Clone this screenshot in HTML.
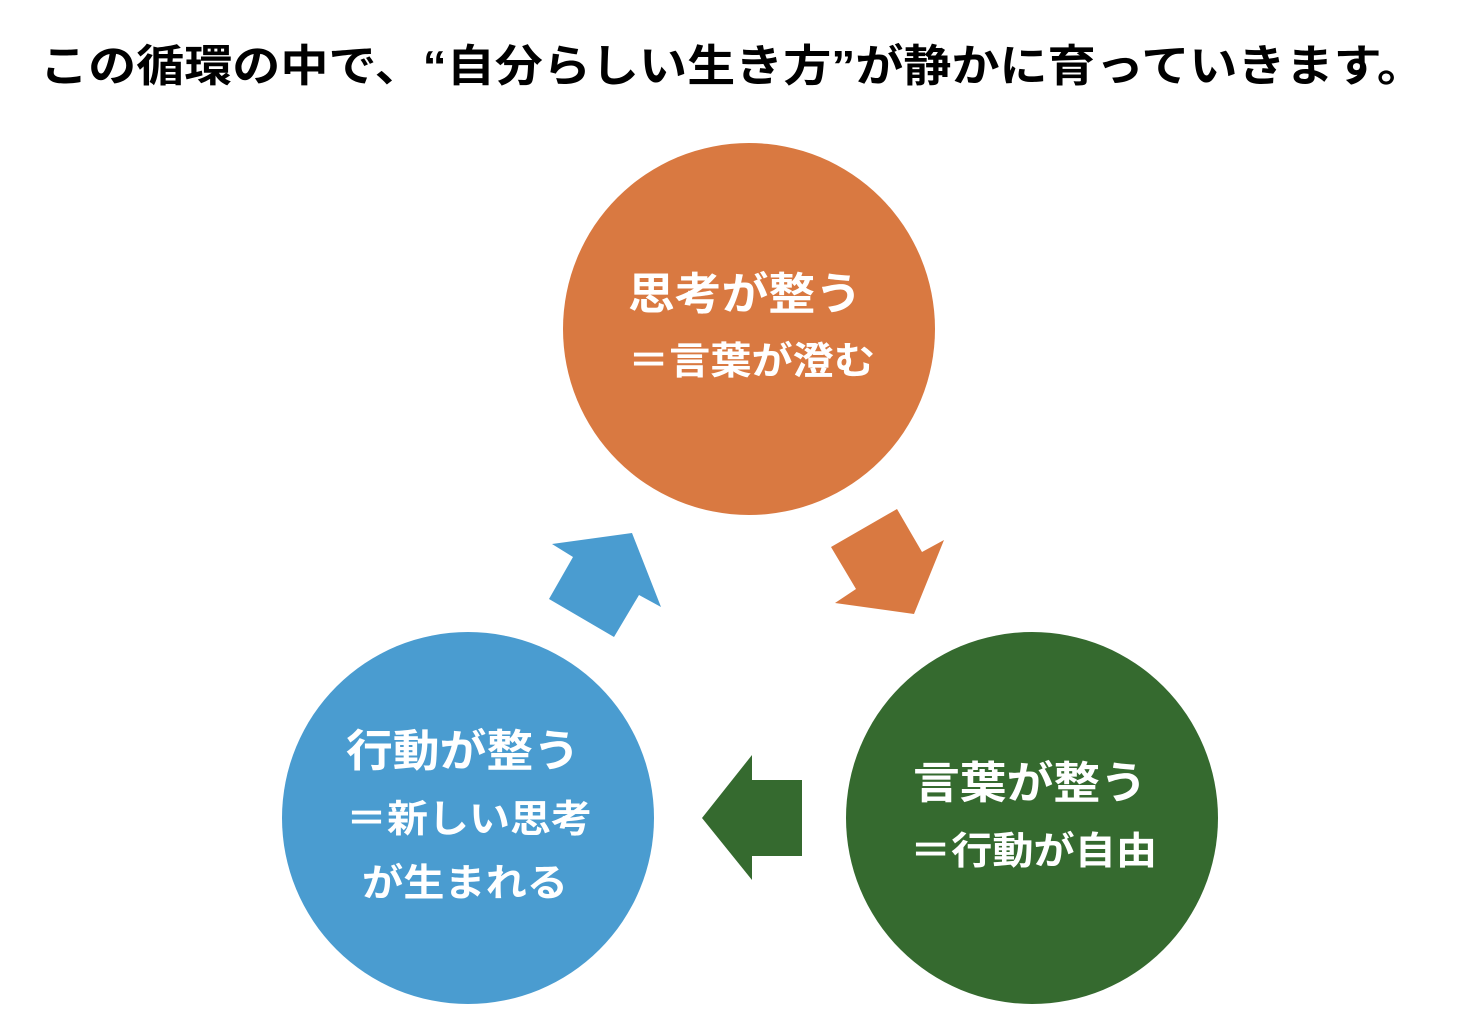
<!DOCTYPE html>
<html><head><meta charset="utf-8"><style>
html,body{margin:0;padding:0;background:#fff;}
svg{display:block}
text{font-family:"Liberation Sans","Noto Sans CJK JP",sans-serif;font-weight:bold;}
</style></head><body>
<svg width="1464" height="1026" viewBox="0 0 1464 1026" xmlns="http://www.w3.org/2000/svg">
<text x="40" y="81" font-size="44" fill="#000" textLength="1385" lengthAdjust="spacingAndGlyphs">この循環の中で、“自分らしい生き方”が静かに育っていきます。</text>
<circle cx="749" cy="329" r="186" fill="#D97941"/>
<circle cx="468" cy="818" r="186" fill="#4A9CD0"/>
<circle cx="1032" cy="818" r="186" fill="#356A2F"/>
<polygon points="552,544 632,533 661,607 639,595 614,637 549,599 573,557" fill="#4A9CD0"/>
<polygon points="897,509 922,552 944,540 914,614 835,603 856,589 831,547" fill="#D97941"/>
<polygon points="702,818 752,755 752,780 802,780 802,856 752,856 752,880" fill="#356A2F"/>
<g fill="#fff">
<text x="628" y="309" font-size="44" textLength="234" lengthAdjust="spacingAndGlyphs">思考が整う</text>
<text x="628" y="374" font-size="38" textLength="247" lengthAdjust="spacingAndGlyphs">＝言葉が澄む</text>
<text x="346" y="766" font-size="44" textLength="234" lengthAdjust="spacingAndGlyphs">行動が整う</text>
<text x="346" y="832" font-size="38" textLength="246" lengthAdjust="spacingAndGlyphs">＝新しい思考</text>
<text x="362" y="896" font-size="38" textLength="206" lengthAdjust="spacingAndGlyphs">が生まれる</text>
<text x="913" y="798" font-size="44" textLength="234" lengthAdjust="spacingAndGlyphs">言葉が整う</text>
<text x="910" y="864" font-size="38" textLength="247" lengthAdjust="spacingAndGlyphs">＝行動が自由</text>
</g>
</svg>
</body></html>
